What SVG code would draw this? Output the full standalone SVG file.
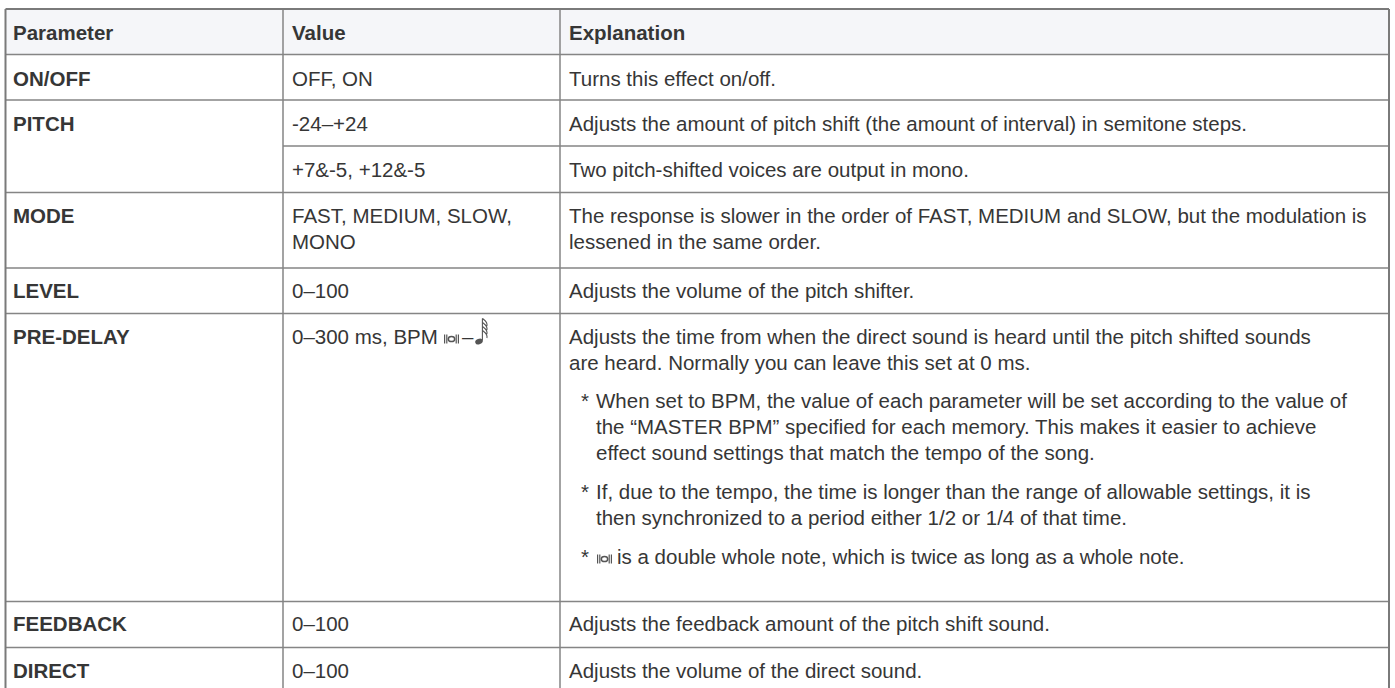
<svg xmlns="http://www.w3.org/2000/svg" width="1395" height="688" viewBox="0 0 1395 688">
<style>
text{font-family:"Liberation Sans",Arial,sans-serif;font-size:20.5px;fill:#363636;}
.b{font-weight:bold;}
.grid{stroke:#858585;stroke-width:1.5;fill:none;}
.outer{stroke:#7a7a7a;stroke-width:2;fill:none;}
.ico{fill:#555555;}
</style>
<defs>
<g id="breve">
<rect x="0" y="-4.5" width="1.2" height="9" class="ico"/>
<rect x="2.2" y="-4.5" width="1.2" height="9" class="ico"/>
<ellipse cx="7.5" cy="0" rx="3.2" ry="2.6" fill="none" stroke="#555555" stroke-width="1.5"/>
<rect x="11.6" y="-4.5" width="1.2" height="9" class="ico"/>
<rect x="13.8" y="-4.5" width="1.2" height="9" class="ico"/>
</g>
<g id="note64">
<ellipse cx="0" cy="0" rx="3.9" ry="2.8" transform="rotate(-22)" fill="#555555"/>
<line x1="3.4" y1="-1" x2="3.4" y2="-23" stroke="#555555" stroke-width="1.1"/>
<path d="M3.4,-23 c2.5,2 5.5,3.5 4.5,7.5 M3.4,-19 c2.5,2 5.5,3.5 4.5,7.5 M3.4,-15 c2.5,2 5.5,3.5 4.5,7.5 M3.4,-11 c2.5,2 5.5,3.5 4.5,7.5" fill="none" stroke="#555555" stroke-width="1.1"/>
</g>
</defs>
<rect width="1395" height="688" fill="#ffffff"/>
<rect x="5.5" y="9" width="1383.5" height="45.5" fill="#f5f6f9"/>

<g id="grid">
<line class="grid" x1="5.5" y1="54.5" x2="1389" y2="54.5"/>
<line class="grid" x1="5.5" y1="100" x2="1389" y2="100"/>
<line class="grid" x1="283" y1="146" x2="1389" y2="146"/>
<line class="grid" x1="5.5" y1="192.5" x2="1389" y2="192.5"/>
<line class="grid" x1="5.5" y1="268" x2="1389" y2="268"/>
<line class="grid" x1="5.5" y1="313.5" x2="1389" y2="313.5"/>
<line class="grid" x1="5.5" y1="601.5" x2="1389" y2="601.5"/>
<line class="grid" x1="5.5" y1="647.5" x2="1389" y2="647.5"/>
<line class="grid" x1="283" y1="9" x2="283" y2="700"/>
<line class="grid" x1="560" y1="9" x2="560" y2="700"/>
<line class="outer" x1="5.5" y1="9" x2="1389" y2="9"/>
<line class="outer" x1="5.5" y1="9" x2="5.5" y2="700"/>
<line class="outer" x1="1389" y1="9" x2="1389" y2="700"/>
</g>

<g id="header">
<text class="b" x="13" y="40">Parameter</text>
<text class="b" x="292" y="40">Value</text>
<text class="b" x="569" y="40">Explanation</text>
</g>

<g id="row-onoff">
<text class="b" x="13" y="85.5">ON/OFF</text>
<text x="292" y="85.5">OFF, ON</text>
<text x="569" y="85.5">Turns this effect on/off.</text>
</g>

<g id="row-pitch">
<text class="b" x="13" y="131">PITCH</text>
<text x="292" y="131">-24–+24</text>
<text x="569" y="131">Adjusts the amount of pitch shift (the amount of interval) in semitone steps.</text>
<text x="292" y="177">+7&amp;-5, +12&amp;-5</text>
<text x="569" y="177">Two pitch-shifted voices are output in mono.</text>
</g>

<g id="row-mode">
<text class="b" x="13" y="222.5">MODE</text>
<text x="292" y="222.5">FAST, MEDIUM, SLOW,</text>
<text x="292" y="249">MONO</text>
<text x="569" y="222.5">The response is slower in the order of FAST, MEDIUM and SLOW, but the modulation is</text>
<text x="569" y="249">lessened in the same order.</text>
</g>

<g id="row-level">
<text class="b" x="13" y="298">LEVEL</text>
<text x="292" y="298">0–100</text>
<text x="569" y="298">Adjusts the volume of the pitch shifter.</text>
</g>

<g id="row-predelay">
<text class="b" x="13" y="343.5">PRE-DELAY</text>
<text x="292" y="343.5">0–300 ms, BPM</text>
<use href="#breve" x="444" y="339"/>
<text x="462" y="343.5">–</text>
<use href="#note64" x="479" y="341.5"/>
<text x="569" y="343.5">Adjusts the time from when the direct sound is heard until the pitch shifted sounds</text>
<text x="569" y="369.5">are heard. Normally you can leave this set at 0 ms.</text>
<text x="581" y="407.5">*</text>
<text x="596" y="407.5">When set to BPM, the value of each parameter will be set according to the value of</text>
<text x="596" y="433.5">the “MASTER BPM” specified for each memory. This makes it easier to achieve</text>
<text x="596" y="459.5">effect sound settings that match the tempo of the song.</text>
<text x="581" y="498.5">*</text>
<text x="596" y="498.5">If, due to the tempo, the time is longer than the range of allowable settings, it is</text>
<text x="596" y="524.5">then synchronized to a period either 1/2 or 1/4 of that time.</text>
<text x="581" y="563.5">*</text>
<use href="#breve" x="597" y="559"/>
<text x="617" y="563.5">is a double whole note, which is twice as long as a whole note.</text>
</g>

<g id="row-feedback">
<text class="b" x="13" y="631">FEEDBACK</text>
<text x="292" y="631">0–100</text>
<text x="569" y="631">Adjusts the feedback amount of the pitch shift sound.</text>
</g>

<g id="row-direct">
<text class="b" x="13" y="678">DIRECT</text>
<text x="292" y="678">0–100</text>
<text x="569" y="678">Adjusts the volume of the direct sound.</text>
</g>
</svg>
